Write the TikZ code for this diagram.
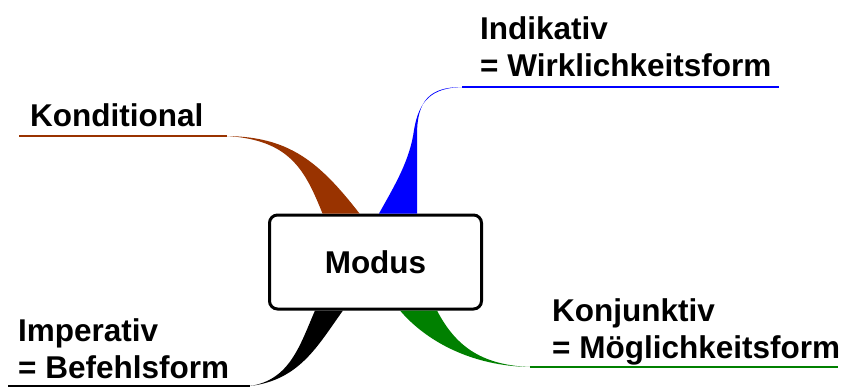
\documentclass[tikz,border=0pt]{standalone}
\usepackage{fontspec}
\setmainfont{Liberation Sans}
\usetikzlibrary{positioning}
\definecolor{kondbrown}{RGB}{153,51,0}
\definecolor{konjgreen}{RGB}{0,128,0}
\tikzset{
    branchtext/.style = {
        anchor = base west, inner sep = 0pt, align = left,
        font = \fontsize{31.5}{37}\selectfont\bfseries
    },
    stem/.style = {line width = 1.5pt},
    modusbox/.style = {
        draw, rounded corners = 8pt, line width = 3pt, fill = white,
        minimum width = 212pt, minimum height = 94pt,
        font = \fontsize{31.5}{37}\selectfont\bfseries
    }
}

\begin{document}
\begin{tikzpicture}[x=1pt, y=-1pt]

    \useasboundingbox (0,0) rectangle (841,388);

    % centre
    \node[modusbox] (modus) at (375.5,262) {Modus};

    % labels (base = last line)
    \node[branchtext] (kond) at (30,126) {Konditional};
    \node[branchtext] (indik) at (480,76) {Indikativ\\= Wirklichkeitsform};
    \node[branchtext] (imper) at (18,378) {Imperativ\\= Befehlsform};
    \node[branchtext] (konj) at (552,358) {Konjunktiv\\= Möglichkeitsform};

    % ends of the stems
    \coordinate (kond-a) at (19,136);
    \coordinate (kond-b) at (227,136);
    \coordinate (indik-a) at (462,87);
    \coordinate (indik-b) at (779,87);
    \coordinate (imper-a) at (8,386);
    \coordinate (imper-b) at (250,386);
    \coordinate (konj-a) at (530,367);
    \coordinate (konj-b) at (838,367);

    % Konditional
    \draw[stem, kondbrown] (kond-a) -- (kond-b);
    \fill[kondbrown] (kond-b) .. controls (288,137) and (318,160) .. ([xshift=-16pt]modus.north)
        -- ([xshift=-53pt]modus.north) .. controls (305,170) and (290,140) .. (kond-b) -- cycle;

    % Indikativ
    \draw[stem, blue] (indik-a) -- (indik-b);
    \fill[blue] (indik-a) .. controls (430,87) and (417,100) .. (417,135)
        -- ([xshift=41.5pt]modus.north) -- ([xshift=3.5pt]modus.north)
        .. controls (395,185) and (410,160) .. (414,130)
        .. controls (419,100) and (432,88) .. (indik-a) -- cycle;

    % Imperativ
    \draw[stem, black] (imper-a) -- (imper-b);
    \fill[black] ([xshift=-60.5pt]modus.south) .. controls (300,345) and (290,380) .. (imper-b)
        .. controls (300,380) and (318,345) .. ([xshift=-32.5pt]modus.south) -- cycle;

    % Konjunktiv
    \draw[stem, konjgreen] (konj-a) -- (konj-b);
    \fill[konjgreen] ([xshift=61.5pt]modus.south) .. controls (455,345) and (480,365) .. (konj-a)
        .. controls (470,366) and (425,340) .. ([xshift=24.5pt]modus.south) -- cycle;

\end{tikzpicture}
\end{document}
